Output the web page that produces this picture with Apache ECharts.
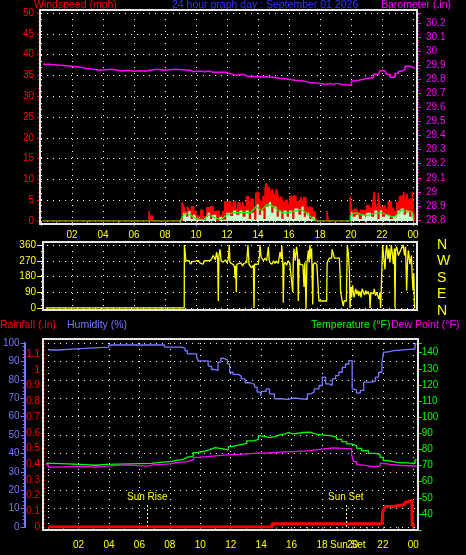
<!DOCTYPE html>
<html><head><meta charset="utf-8">
<script src="https://cdn.jsdelivr.net/npm/echarts@6/dist/echarts.min.js"></script>
<style>html,body{margin:0;padding:0;background:#000;}#c{width:466px;height:555px;}</style>
</head><body><div id="c"></div><script>
// ---------- DATA (time in hours of the day) ----------
const gust = [[0.1,0],[6.97,2.4],[7.0,1.2],[7.05,1.2],[7.2,0],[9.1,4.4],[9.2,3.4],[9.3,2.3],[9.45,3.4],[9.55,2.6],[9.7,3.4],[9.85,2.3],[10.0,1.2],[10.15,0.5],[10.3,2.6],[10.45,1.0],[10.7,3.2],[10.85,2.2],[10.95,3.4],[11.1,2.2],[11.3,2.4],[11.5,1.2],[11.7,2.2],[11.85,4.6],[12.0,3.4],[12.1,4.6],[12.25,3.4],[12.4,4.6],[12.55,2.8],[12.7,4.4],[12.85,3.4],[13.0,4.6],[13.1,3.4],[13.25,5.9],[13.4,4.6],[13.55,5.2],[13.7,3.4],[13.85,6.6],[13.95,7.0],[14.05,5.9],[14.15,4.6],[14.3,5.9],[14.45,7.8],[14.55,9.1],[14.65,7.4],[14.72,8.2],[14.8,6.0],[14.9,7.6],[15.0,6.6],[15.1,5.4],[15.2,7.8],[15.3,5.9],[15.4,4.6],[15.5,5.9],[15.6,4.4],[15.75,5.0],[15.9,4.0],[16.05,5.9],[16.2,3.4],[16.3,6.0],[16.45,4.6],[16.6,5.0],[16.75,5.9],[16.85,3.8],[16.95,5.6],[17.1,3.3],[17.3,3.2],[17.5,2.2],[17.7,0.8],[17.8,0],[18.45,2.4],[18.53,0],[19.95,5.9],[20.05,2.3],[20.2,2.8],[20.4,2.0],[20.6,2.6],[20.8,2.3],[21.0,3.7],[21.2,3.0],[21.4,4.0],[21.5,7.0],[21.6,3.3],[21.75,6.8],[21.85,3.3],[22.0,3.7],[22.2,2.8],[22.4,4.6],[22.6,3.0],[22.75,2.2],[22.95,4.6],[23.05,3.2],[23.15,5.9],[23.3,4.6],[23.4,7.0],[23.5,4.0],[23.6,6.6],[23.7,4.6],[23.8,5.2],[23.95,7.0],[24.05,2.0],[24.1,0]];
const avgWind = [[0.1,0],[9.0,0.5],[9.15,2.0],[9.35,1.0],[9.5,2.5],[9.65,0.5],[9.8,1.5],[10.0,0],[10.1,1.0],[10.3,0.3],[10.65,2.0],[10.9,0.5],[11.05,1.5],[11.3,0],[11.5,1.0],[11.7,0.3],[11.95,2.0],[12.2,1.2],[12.4,2.5],[12.6,1.5],[12.8,2.5],[13.0,1.0],[13.2,2.5],[13.4,0.5],[13.55,2.0],[13.75,0.3],[13.9,4.0],[14.05,1.5],[14.2,2.5],[14.35,0.5],[14.5,3.5],[14.7,4.5],[14.85,2.0],[15.0,3.5],[15.2,1.0],[15.35,2.5],[15.5,0.5],[15.65,2.5],[15.85,1.0],[16.0,2.5],[16.2,0.5],[16.35,3.0],[16.6,1.5],[16.8,3.5],[16.95,1.0],[17.1,2.0],[17.3,0.5],[17.5,1.0],[17.7,0],[18.47,1.0],[18.52,0],[19.95,2.5],[20.1,1.0],[20.3,1.5],[20.5,0.5],[20.7,1.5],[20.9,0.3],[21.0,2.0],[21.3,1.0],[21.5,2.5],[21.7,0.5],[21.85,2.5],[22.0,1.0],[22.2,1.5],[22.5,0.5],[22.7,1.2],[22.9,0.3],[23.0,2.5],[23.2,3.0],[23.4,1.5],[23.55,2.5],[23.75,1.0],[23.9,2.0],[24.05,0]];
const avgLine = [[0.1,0],[9.0,0],[9.15,1.2],[9.3,1.9],[9.6,1.5],[9.8,1.0],[10.0,0.5],[10.5,0.3],[10.8,1.5],[11.2,0.8],[11.6,0.3],[12.0,1.5],[12.4,2.0],[13.0,2.0],[13.5,2.0],[13.9,3.5],[14.2,2.5],[14.6,4.0],[15.0,3.5],[15.3,2.5],[15.6,2.0],[16.0,2.0],[16.5,2.5],[16.8,2.8],[17.1,2.0],[17.4,1.0],[17.7,0],[19.95,0],[20.0,1.5],[20.3,2.0],[20.7,1.5],[21.0,1.3],[21.5,1.8],[22.0,2.0],[22.5,1.2],[22.8,1.0],[23.1,2.0],[23.3,2.7],[23.6,2.2],[23.9,2.3],[24.05,0.5]];
const barometer = [[0.15,29.906],[0.58,29.899],[1.27,29.892],[1.98,29.885],[2.62,29.878],[2.84,29.871],[3.38,29.864],[3.81,29.871],[4.56,29.864],[4.99,29.859],[5.2,29.864],[5.63,29.857],[5.96,29.861],[6.39,29.857],[6.71,29.864],[7.03,29.871],[7.46,29.864],[8.0,29.871],[8.65,29.864],[9.61,29.854],[9.83,29.859],[10.26,29.854],[10.58,29.859],[10.8,29.850],[11.12,29.842],[11.23,29.850],[11.87,29.842],[12.19,29.835],[12.41,29.828],[12.62,29.835],[13.05,29.821],[13.38,29.814],[14.99,29.807],[15.42,29.800],[15.96,29.793],[16.39,29.786],[17.03,29.778],[17.25,29.771],[17.89,29.760],[18.0,29.764],[18.43,29.771],[18.65,29.764],[18.86,29.771],[19.07,29.764],[19.4,29.757],[20.04,29.788],[20.26,29.795],[20.58,29.805],[21.01,29.812],[21.44,29.835],[21.76,29.842],[21.87,29.861],[22.19,29.854],[22.3,29.835],[22.51,29.814],[22.84,29.842],[23.05,29.857],[23.27,29.871],[23.48,29.892],[23.81,29.885],[24.02,29.878],[24.13,29.878]];
const windDir = [[0.3,0],[9.24,0],[9.25,360],[9.29,330],[9.35,270],[9.45,262],[9.55,270],[9.65,250],[9.75,265],[9.85,255],[9.95,268],[10.05,260],[10.15,272],[10.25,258],[10.35,266],[10.45,250],[10.55,270],[10.65,262],[10.75,270],[10.85,265],[10.95,272],[11.05,268],[11.12,300],[11.25,275],[11.33,320],[11.4,280],[11.44,40],[11.48,300],[11.55,335],[11.62,270],[11.75,262],[11.9,275],[12.0,258],[12.08,280],[12.15,360],[12.19,260],[12.3,250],[12.41,248],[12.48,235],[12.52,170],[12.56,240],[12.6,90],[12.63,250],[12.75,242],[12.9,258],[13.0,240],[13.1,255],[13.2,245],[13.27,260],[13.35,360],[13.42,250],[13.48,240],[13.59,230],[13.7,245],[13.74,0],[13.78,250],[13.9,260],[14.02,250],[14.1,300],[14.13,360],[14.2,290],[14.24,280],[14.35,270],[14.45,285],[14.56,270],[14.67,350],[14.72,275],[14.77,260],[14.9,250],[15.0,270],[15.1,255],[15.2,268],[15.31,255],[15.42,320],[15.5,280],[15.53,355],[15.6,260],[15.63,30],[15.68,250],[15.74,262],[15.85,245],[15.95,270],[16.05,255],[16.17,265],[16.24,90],[16.28,280],[16.32,340],[16.4,270],[16.49,350],[16.55,300],[16.6,40],[16.65,280],[16.71,250],[16.82,260],[16.9,245],[16.97,120],[17.02,260],[17.1,0],[17.15,250],[17.25,330],[17.3,260],[17.35,360],[17.42,280],[17.46,340],[17.53,20],[17.57,250],[17.7,260],[17.8,245],[17.89,255],[17.93,40],[18.43,40],[18.46,260],[18.55,260],[18.6,285],[18.75,285],[18.78,335],[18.9,335],[18.93,285],[19.25,285],[19.3,190],[19.33,90],[19.45,90],[19.5,10],[19.55,40],[19.7,40],[19.76,360],[19.83,310],[19.9,200],[19.94,0],[20.0,120],[20.04,60],[20.1,130],[20.15,90],[20.2,60],[20.3,110],[20.37,80],[20.45,100],[20.5,70],[20.58,95],[20.65,60],[20.72,110],[20.8,90],[20.88,75],[20.95,100],[21.01,80],[21.1,95],[21.2,70],[21.23,0],[21.28,90],[21.35,100],[21.44,80],[21.5,110],[21.58,70],[21.66,90],[21.75,100],[21.8,50],[21.87,90],[21.91,0],[21.95,100],[22.04,360],[22.1,300],[22.19,220],[22.25,320],[22.3,360],[22.38,280],[22.45,340],[22.51,260],[22.6,360],[22.68,300],[22.73,250],[22.8,340],[22.84,0],[22.88,330],[22.95,350],[23.05,300],[23.16,290],[23.25,340],[23.37,360],[23.45,300],[23.52,350],[23.59,100],[23.65,270],[23.7,330],[23.8,250],[23.9,300],[23.95,180],[24.0,100],[24.05,200],[24.1,0],[24.13,10]];
const humidity = [[0.04,96.2],[0.63,96.8],[1.82,97.8],[4.0,98.9],[7.65,97.8],[8.78,97.1],[9.0,95.8],[9.15,94.1],[9.76,92.3],[9.87,90.3],[10.52,87.4],[10.74,85.6],[10.95,85.0],[11.17,89.6],[11.35,91.7],[11.5,91.0],[11.78,88.7],[11.93,84.1],[12.15,83.0],[12.48,82.0],[12.69,80.5],[12.95,78.4],[13.24,77.5],[13.57,76.0],[13.74,73.3],[13.96,71.1],[14.04,73.7],[14.33,75.1],[14.55,72.4],[14.87,69.7],[15.3,69.4],[15.74,70.1],[16.17,69.7],[16.61,69.4],[17.04,72.4],[17.26,73.3],[17.48,75.1],[17.8,76.9],[18.02,81.4],[18.24,77.8],[18.46,76.9],[18.67,80.5],[18.89,82.3],[19.11,84.1],[19.33,86.8],[19.54,88.6],[19.76,90.4],[19.98,75.1],[20.09,74.6],[20.26,72.9],[20.52,74.2],[20.74,78.7],[21.18,79.1],[21.5,81.4],[21.72,84.1],[21.94,89.6],[22.04,95.0],[22.26,95.9],[22.7,96.8],[24.11,99.5],[24.22,99.5]];
const rainfall = [[0.03,0],[14.72,0.02],[21.94,0.02],[21.98,0.09],[22.05,0.11],[22.15,0.13],[22.65,0.14],[23.24,0.145],[23.45,0.16],[23.65,0.17],[23.9,0.18],[23.93,0.01],[24.1,0.01]];
const temperature = [[0.04,71.4],[0.52,70.8],[2.26,70.2],[3.24,70.8],[4.0,71.4],[6.93,72.0],[7.48,72.6],[8.24,73.2],[8.56,73.9],[9.0,75.1],[9.22,75.9],[9.65,78.0],[9.87,79.0],[10.41,80.1],[10.74,81.1],[11.06,80.5],[11.5,79.7],[11.93,81.7],[12.15,82.8],[12.69,83.8],[13.13,85.3],[13.57,86.3],[13.89,88.4],[14.11,87.4],[14.65,88.0],[14.98,89.1],[15.3,89.7],[15.63,90.5],[15.85,89.7],[16.17,90.5],[16.83,90.7],[17.26,89.7],[17.59,89.1],[18.02,88.4],[18.67,87.6],[19.0,86.3],[19.33,84.9],[19.65,83.4],[19.98,82.2],[20.31,80.7],[20.63,79.3],[21.07,77.6],[21.5,77.0],[21.83,75.1],[22.04,73.1],[22.37,72.0],[22.92,71.4],[24.11,73.5],[24.22,73.5]];
const dewPoint = [[0.04,70.4],[0.19,69.1],[0.63,69.7],[2.26,69.1],[3.24,69.7],[4.0,70.4],[5.3,69.7],[6.6,70.4],[7.04,71.0],[8.13,71.8],[8.56,72.4],[9.22,73.5],[9.65,75.1],[9.98,75.9],[10.95,76.6],[11.82,77.0],[12.69,77.6],[13.57,77.8],[14.43,78.3],[15.3,78.7],[16.17,79.1],[17.04,80.1],[17.91,81.0],[18.78,80.3],[19.98,76.6],[20.09,72.4],[20.31,70.4],[20.63,69.3],[21.39,69.7],[21.83,71.4],[22.04,70.8],[22.48,70.2],[23.03,69.7],[24.22,69.7]];
const sunTimes = [6.52, 19.56];
const sunLabels = ['Sun Rise', 'Sun Set'];
const compass = {0:'N', 90:'E', 180:'S', 270:'W', 360:'N'};
const titleText = '24 hour graph day : September 01 2026';

// ---------- helpers ----------
const FONT = 'Liberation Sans, Arial, sans-serif';
const TF = '10.5px ' + FONT;
const near = (v, step) => Math.abs(v / step - Math.round(v / step)) < 1e-6;
const hourFmt = v => { const r = Math.round(v); if (!near(v, 1) || r === 0 || r % 2) return ''; return String(r % 24).padStart(2, '0'); };
const tenthFmt = v => near(v, 0.1) ? String(Math.round(v * 10) / 10) : '';
const dots = { show: true, lineStyle: { color: '#ffffff', type: [1, 5], width: 1 } };
const noAxis = (grid, max) => ({ type: 'value', gridIndex: grid, min: 0, max: max, show: false, axisLine: { onZero: false } });

const X1 = 376 / 15.5, X2 = 372.3 / 15.33;

const option = {
  backgroundColor: '#000',
  animation: false,
  grid: [
    { left: 41, top: 13, width: 376, height: 208 },
    { left: 41, top: 13, width: 376, height: 207 },
    { left: 41, top: 245, width: 376, height: 63 },
    { left: 41, top: 245, width: 376, height: 66 },
    { left: 45.4, top: 343, width: 372.3, height: 184 },
    { left: 45.4, top: 343, width: 372.3, height: 187.1 }
  ],
  xAxis: [
    { type: 'value', gridIndex: 0, min: 0, max: X1, interval: 2,
      axisLine: { show: false, onZero: false }, axisTick: { show: true, length: 5, lineStyle: { color: '#999' } },
      minorTick: { show: true, splitNumber: 2, length: 4, lineStyle: { color: '#999' } },
      axisLabel: { color: '#ffff00', fontSize: 10, fontFamily: FONT, margin: 9, formatter: hourFmt },
      splitLine: dots },
    noAxis(1, X1),
    { type: 'value', gridIndex: 2, min: 0, max: X1, interval: 2,
      axisLine: { show: false, onZero: false }, axisTick: { show: false }, axisLabel: { show: false }, splitLine: dots },
    noAxis(3, X1),
    { type: 'value', gridIndex: 4, min: 0, max: X2, interval: 2,
      axisLine: { show: false, onZero: false }, axisTick: { show: true, length: 4, lineStyle: { color: '#888' } },
      minorTick: { show: true, splitNumber: 2, length: 3, lineStyle: { color: '#888' } },
      axisLabel: { color: '#ffff00', fontSize: 10, fontFamily: FONT, margin: 13, formatter: hourFmt },
      splitLine: dots },
    noAxis(5, X2)
  ],
  yAxis: [
    { type: 'value', gridIndex: 0, min: 0, max: 50, interval: 5, position: 'left',
      axisLine: { show: false, onZero: false },
      axisTick: { show: true, length: 4, lineStyle: { color: '#ff0000' } },
      minorTick: { show: true, splitNumber: 5, length: 3, lineStyle: { color: '#ff0000' } },
      axisLabel: { color: '#ff0000', fontSize: 10, fontFamily: FONT, margin: 7 },
      splitLine: dots },
    { type: 'value', gridIndex: 1, min: 28.8, max: 28.8 + 207 / 140.71, interval: 0.1, position: 'right',
      axisLine: { show: true, onZero: false, lineStyle: { color: '#ff00ff' } },
      axisTick: { show: true, length: 4, lineStyle: { color: '#ff00ff' } },
      minorTick: { show: true, splitNumber: 5, length: 2, lineStyle: { color: '#ff00ff' } },
      axisLabel: { color: '#ff00ff', fontSize: 10, fontFamily: FONT, margin: 9, formatter: tenthFmt },
      splitLine: { show: false } },
    { type: 'value', gridIndex: 2, min: 0, max: 360, interval: 90, position: 'left',
      axisLine: { show: false, onZero: false },
      axisTick: { show: true, length: 4, lineStyle: { color: '#ffff00' } },
      axisLabel: { color: '#ffff00', fontSize: 10, fontFamily: FONT, margin: 5 },
      splitLine: dots },
    { type: 'value', gridIndex: 3, min: 0, max: 360, interval: 90, position: 'right',
      axisLine: { show: false, onZero: false }, axisTick: { show: false }, splitLine: { show: false },
      axisLabel: { color: '#ffff00', fontSize: 14, fontFamily: FONT, margin: 20, formatter: v => compass[v] || '' } },
    { type: 'value', gridIndex: 4, min: 0, max: 100, interval: 10, position: 'left', offset: 23.4,
      axisLine: { show: true, onZero: false, lineStyle: { color: '#7777ff', width: 2 } },
      axisTick: { show: true, length: 4, lineStyle: { color: '#7777ff' } },
      minorTick: { show: true, splitNumber: 5, length: 2, lineStyle: { color: '#7777ff' } },
      axisLabel: { color: '#7777ff', fontSize: 10, fontFamily: FONT, margin: 5 },
      splitLine: dots },
    { type: 'value', gridIndex: 4, min: 0, max: 184 / 157, interval: 0.1, position: 'left', offset: 3,
      axisLine: { show: false, onZero: false },
      axisTick: { show: true, length: 4, lineStyle: { color: '#ff0000' } },
      minorTick: { show: true, splitNumber: 4, length: 2, lineStyle: { color: '#ff0000' } },
      axisLabel: { color: '#ff0000', fontSize: 10, fontFamily: FONT, margin: 5, formatter: tenthFmt },
      splitLine: { show: false } },
    { type: 'value', gridIndex: 5, min: 30, max: 30 + 187.1 / 1.613, interval: 10, position: 'right',
      axisLine: { show: true, onZero: false, lineStyle: { color: '#00ff00', width: 2 } },
      axisTick: { show: true, length: 4, lineStyle: { color: '#00ff00' } },
      axisLabel: { color: '#00ff00', fontSize: 10, fontFamily: FONT, margin: 4,
        formatter: v => (near(v, 10) && v >= 40 && v <= 140) ? String(Math.round(v)) : '' },
      splitLine: { show: false } }
  ],
  series: [
    { type: 'line', name: 'gust', xAxisIndex: 0, yAxisIndex: 0, data: gust, step: 'end', symbol: 'none',
      lineStyle: { color: '#ff0000', width: 1.5 }, areaStyle: { color: '#ff0000', opacity: 1 } },
    { type: 'line', name: 'avg', xAxisIndex: 0, yAxisIndex: 0, data: avgWind, step: 'end', symbol: 'none',
      lineStyle: { width: 0 }, areaStyle: { color: '#ccffcc', opacity: 1 } },
    { type: 'line', name: 'avgLine', xAxisIndex: 0, yAxisIndex: 0, data: avgLine, symbol: 'none',
      lineStyle: { color: '#00ff00', width: 1.2 } },
    { type: 'line', name: 'baro', xAxisIndex: 1, yAxisIndex: 1, data: barometer, step: 'end', symbol: 'none',
      lineStyle: { color: '#ff00ff', width: 1.5 } },
    { type: 'line', name: 'dir', xAxisIndex: 2, yAxisIndex: 2, data: windDir, symbol: 'none',
      lineStyle: { color: '#ffff00', width: 1.3 } },
    { type: 'line', name: 'hum', xAxisIndex: 4, yAxisIndex: 4, data: humidity, step: 'end', symbol: 'none',
      lineStyle: { color: '#7777ff', width: 1.3 },
      markLine: { symbol: ['none', 'none'], silent: true,
        lineStyle: { color: '#ffffcc', type: [2, 2], width: 1 },
        label: { show: true, position: 'end', distance: 1, color: '#ffff00', fontSize: 10, fontFamily: FONT, formatter: p => p.name },
        data: sunTimes.map((t, i) => [{ name: sunLabels[i], coord: [t, 0] }, { coord: [t, 13] }]) } },
    { type: 'line', name: 'rain', xAxisIndex: 4, yAxisIndex: 5, data: rainfall, step: 'end', symbol: 'none',
      lineStyle: { color: '#ff0000', width: 3 } },
    { type: 'line', name: 'temp', xAxisIndex: 5, yAxisIndex: 6, data: temperature, step: 'end', symbol: 'none',
      lineStyle: { color: '#00ff00', width: 1.3 } },
    { type: 'line', name: 'dew', xAxisIndex: 5, yAxisIndex: 6, data: dewPoint, step: 'end', symbol: 'none',
      lineStyle: { color: '#ff00ff', width: 1.3 } }
  ],
  graphic: [
    { type: 'rect', shape: { x: 40, y: 10, width: 377, height: 214 }, style: { fill: null, stroke: '#e6e6e6', lineWidth: 2 }, z: 100, silent: true },
    { type: 'rect', shape: { x: 43, y: 242, width: 374, height: 68 }, style: { fill: null, stroke: '#e6e6e6', lineWidth: 2 }, z: 100, silent: true },
    { type: 'rect', shape: { x: 43, y: 339, width: 375, height: 191 }, style: { fill: null, stroke: '#e6e6e6', lineWidth: 2 }, z: 100, silent: true },
    { type: 'text', x: 34, y: 0, style: { text: 'Windspeed (mph)', fill: '#ff0000', font: TF } },
    { type: 'text', x: 172, y: 0, style: { text: titleText, fill: '#3333ff', font: TF } },
    { type: 'text', x: 381, y: 0, style: { text: 'Barometer (.in)', fill: '#ff00ff', font: TF } },
    { type: 'text', x: 0, y: 320, style: { text: 'Rainfall (.in)', fill: '#ff0000', font: TF } },
    { type: 'text', x: 67, y: 320, style: { text: 'Humidity (%)', fill: '#7777ff', font: TF } },
    { type: 'text', x: 311, y: 320, style: { text: 'Temperature (°F)', fill: '#00ff00', font: TF } },
    { type: 'text', x: 391, y: 320, style: { text: 'Dew Point (°F)', fill: '#ff00ff', font: TF } },
    { type: 'text', x: 330, y: 540, style: { text: 'Sun Set', fill: '#ffff00', font: '10px ' + FONT } }
  ]
};
echarts.init(document.getElementById('c'), null, { renderer: 'canvas' }).setOption(option);
</script></body></html>
